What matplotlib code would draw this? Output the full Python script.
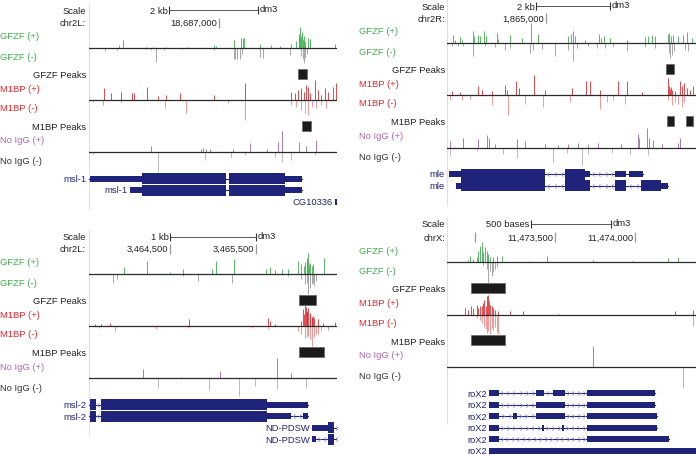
import numpy as np
import matplotlib.pyplot as plt
from matplotlib.path import Path
from matplotlib.transforms import blended_transform_factory

plt.rcParams['font.family'] = ['Liberation Sans', 'DejaVu Sans']

# ---- browser windows: start (bp) and width (kb) ----
chroms = ['chr2L', 'chr2R', 'chr2L', 'chrX']
win_start = [18684080, 1862324, 3463558, 11472825]
win_kb = [5.573, 6.730, 2.884, 1.556]
scale_text = ['2 kb', '2 kb', '1 kb', '500 bases']
scale_kb = [2.0, 2.0, 1.0, 0.5]
scale_from = [1.80, 2.405, 0.942, 0.525]
pos_ticks = [[18687000], [1865000], [3464500, 3465500], [11473000, 11473500, 11474000]]

# ---- signal tracks: (kb from window start, height) ----
gfzf_plus_1 = [(0.67, 2.7), (0.76, 7.3), (1.29, 1.0), (1.44, 1.0), (1.74, 1.0), (2.23, 1.0), (2.82, 2.7), (2.86, 1.3),
               (3.25, 7.3), (3.42, 9.3), (3.45, 10.0), (3.48, 9.3), (3.84, 3.3), (4.10, 2.7), (4.29, 2.0), (4.55, 3.3),
               (4.66, 6.7), (4.71, 10.0), (4.73, 14.0), (4.75, 21.0), (4.77, 11.7), (4.79, 16.0), (4.81, 8.3),
               (4.83, 12.0), (4.85, 6.7), (4.92, 9.3), (4.96, 8.3), (5.52, 4.0)]
gfzf_minus_1 = [(0.05, 1.3), (0.35, 3.3), (0.64, 2.0), (1.29, 1.3), (1.39, 2.0), (1.51, 14.0), (1.69, 2.0), (2.11, 1.3),
                (2.82, 2.0), (3.25, 11.0), (3.29, 11.0), (3.33, 11.0), (3.39, 11.0), (3.44, 6.0), (3.84, 9.0),
                (3.91, 10.0), (4.51, 7.0), (4.77, 8.0), (4.81, 11.0), (4.83, 15.0), (4.86, 10.0), (4.91, 6.0)]
m1bp_plus_1 = [(0.34, 12.3), (0.49, 6.7), (0.71, 8.3), (0.97, 6.7), (1.01, 7.3), (1.31, 13.3), (1.55, 4.0), (1.72, 5.0),
               (2.04, 6.7), (2.81, 5.0), (3.50, 16.7), (4.53, 8.3), (4.62, 6.7), (4.70, 10.0), (4.77, 11.7), (4.83, 8.3),
               (4.88, 15.0), (4.92, 13.3), (4.96, 6.7), (5.07, 20.0), (5.15, 10.0), (5.22, 5.0), (5.31, 11.7),
               (5.37, 8.3), (5.48, 13.3), (5.56, 16.7)]
m1bp_minus_1 = [(0.09, 2.3), (0.31, 5.0), (0.73, 1.7), (1.70, 8.3), (2.19, 13.3), (3.12, 3.3), (3.50, 20.0), (4.55, 5.0),
                (4.66, 6.7), (4.77, 10.0), (4.85, 13.0), (4.92, 15.0), (5.00, 6.7), (5.11, 7.7), (5.22, 5.0), (5.33, 8.3)]
igg_plus_1 = [(1.39, 6.0), (2.52, 3.3), (2.56, 4.3), (2.64, 2.7), (2.71, 3.3), (3.24, 3.3), (3.61, 9.0), (3.99, 2.7),
              (4.25, 10.0), (4.34, 21.0), (4.73, 10.0), (4.88, 6.0), (5.09, 12.0)]
igg_minus_1 = [(0.09, 2.0), (1.55, 20.0), (2.60, 8.0), (3.20, 5.0), (3.50, 3.0), (4.17, 5.0), (4.34, 10.0), (4.55, 8.0),
               (5.07, 3.0)]

gfzf_plus_2 = [(0.17, 8.3), (0.22, 3.3), (0.35, 6.0), (0.40, 2.7), (0.69, 11.7), (0.74, 6.7), (0.85, 8.3), (0.89, 6.7),
               (1.01, 11.7), (1.05, 6.7), (1.34, 10.0), (1.39, 4.0), (1.70, 8.3), (2.02, 5.0), (2.27, 20.0), (2.47, 9.3),
               (3.28, 6.7), (3.35, 9.3), (3.41, 11.7), (3.46, 6.7), (3.73, 3.3), (4.11, 9.3), (4.16, 5.0), (4.25, 7.3),
               (4.41, 5.0), (4.86, 2.7), (5.35, 6.0), (5.44, 6.7), (5.55, 8.3), (5.62, 7.3), (5.96, 9.3), (6.00, 10.0),
               (6.05, 7.3), (6.12, 8.3), (6.25, 6.7), (6.39, 8.3), (6.48, 10.7), (6.61, 5.0)]
gfzf_minus_2 = [(0.14, 2.7), (0.31, 3.3), (0.44, 3.3), (0.71, 13.3), (1.03, 3.3), (1.30, 4.0), (1.57, 6.7), (1.70, 5.0),
                (2.24, 10.0), (2.33, 7.3), (2.56, 6.0), (2.92, 13.3), (3.28, 6.7), (3.41, 18.0), (3.51, 5.0),
                (3.82, 3.3), (4.05, 5.0), (4.27, 5.0), (4.50, 3.3), (4.86, 8.3), (5.35, 4.0), (5.62, 5.0), (6.00, 10.0),
                (6.04, 14.7), (6.07, 11.7), (6.14, 8.3), (6.43, 6.7), (6.52, 8.3)]
m1bp_plus_2 = [(0.13, 4.0), (0.35, 3.3), (0.85, 9.0), (0.94, 5.7), (1.21, 4.0), (1.57, 10.7), (1.61, 5.7), (1.86, 14.0),
               (1.95, 7.3), (2.36, 20.0), (2.65, 5.7), (3.37, 7.3), (3.75, 14.7), (3.87, 14.0), (4.14, 5.7),
               (4.61, 14.0), (4.86, 14.7), (5.26, 3.3), (5.96, 17.3), (6.00, 9.0), (6.02, 6.0), (6.05, 8.0),
               (6.07, 5.7), (6.16, 4.0), (6.30, 14.7), (6.36, 9.0), (6.41, 12.3), (6.48, 7.3), (6.57, 5.7), (6.66, 9.0)]
m1bp_minus_2 = [(0.08, 5.0), (0.40, 5.0), (0.62, 3.3), (1.21, 10.0), (1.66, 20.0), (2.11, 8.3), (2.60, 11.7),
                (3.32, 6.7), (4.14, 14.0), (4.32, 6.7), (4.50, 5.0), (4.81, 8.3), (5.98, 5.0), (6.07, 10.0),
                (6.16, 6.7), (6.25, 8.3), (6.34, 11.7), (6.41, 6.7)]
igg_plus_2 = [(0.08, 6.7), (0.44, 10.0), (0.85, 8.3), (1.07, 12.7), (1.14, 10.0), (1.30, 3.3), (1.88, 8.3), (2.11, 6.7),
              (2.65, 3.3), (3.01, 2.7), (3.28, 3.3), (3.55, 5.0), (3.82, 3.3), (4.09, 5.0), (4.70, 4.0), (5.15, 14.0),
              (5.19, 9.3), (5.40, 20.0), (5.46, 10.0), (5.57, 8.0), (5.80, 4.0), (6.23, 5.0), (6.30, 10.0)]
igg_minus_2 = [(0.08, 7.0), (0.80, 3.3), (1.52, 6.7), (1.88, 10.0), (2.87, 14.0), (3.23, 5.0), (3.64, 17.0),
               (3.82, 6.7), (4.45, 5.0), (4.95, 6.7), (5.44, 7.0)]

gfzf_plus_3 = [(0.41, 6.7), (0.67, 12.7), (0.94, 2.0), (1.09, 4.3), (1.43, 4.3), (1.48, 12.7), (1.69, 14.3), (2.06, 4.3),
               (2.10, 6.7), (2.16, 3.3), (2.24, 4.3), (2.31, 4.3), (2.43, 12.7), (2.47, 9.3), (2.50, 7.7), (2.51, 12.0),
               (2.53, 16.0), (2.54, 14.0), (2.55, 21.0), (2.56, 10.0), (2.57, 11.0), (2.59, 7.7), (2.61, 9.3),
               (2.73, 16.0)]
gfzf_minus_3 = [(0.28, 9.0), (0.33, 5.7), (1.09, 2.3), (1.27, 7.3), (1.66, 9.0), (2.31, 2.3), (2.47, 5.7), (2.51, 10.7),
                (2.53, 9.0), (2.55, 20.0), (2.57, 14.0), (2.59, 10.7), (2.61, 9.0), (2.62, 12.3), (2.64, 7.3)]
m1bp_plus_3 = [(0.07, 1.7), (0.14, 2.3), (0.24, 3.3), (1.16, 6.7), (2.08, 8.3), (2.10, 5.0), (2.16, 2.3), (2.46, 5.0),
               (2.49, 16.7), (2.50, 12.0), (2.51, 21.7), (2.52, 19.0), (2.53, 15.0), (2.54, 14.0), (2.55, 18.3),
               (2.57, 13.3), (2.575, 11.0), (2.59, 8.3), (2.595, 9.0), (2.61, 10.0), (2.62, 8.3), (2.66, 6.7),
               (2.72, 3.3), (2.86, 4.3)]
m1bp_minus_3 = [(0.12, 2.0), (0.30, 5.0), (0.78, 3.0), (1.15, 2.0), (1.89, 2.0), (2.08, 2.5), (2.43, 5.0), (2.47, 7.5),
                (2.51, 11.7), (2.53, 11.0), (2.55, 10.0), (2.57, 13.3), (2.59, 20.0), (2.62, 11.0), (2.64, 8.0),
                (2.66, 7.7), (2.70, 5.0), (2.78, 4.3), (2.88, 2.3)]
igg_plus_3 = [(0.63, 9.3), (1.07, 1.0), (1.52, 7.3), (2.19, 20.0), (2.35, 5.0)]
igg_minus_3 = [(0.80, 10.0), (1.39, 12.0), (1.75, 18.0), (1.93, 8.0), (2.19, 11.0), (2.52, 10.0), (2.88, 5.0)]

gfzf_plus_4 = [(0.133, 2.7), (0.144, 6.7), (0.165, 3.3), (0.185, 5.0), (0.196, 11.7), (0.206, 16.7), (0.217, 20.0),
               (0.227, 10.0), (0.238, 15.0), (0.248, 11.7), (0.258, 8.3), (0.269, 5.0), (0.290, 5.0), (0.310, 6.7),
               (0.342, 6.7), (0.519, 1.7), (0.623, 6.7), (0.915, 2.7), (1.154, 1.7), (1.383, 4.0), (1.446, 5.0)]
gfzf_minus_4 = [(0.227, 2.7), (0.248, 6.7), (0.258, 21.0), (0.269, 8.3), (0.279, 13.3), (0.290, 10.0), (0.300, 6.7),
                (0.310, 5.0)]
m1bp_plus_4 = [(0.113, 6.7), (0.133, 5.0), (0.150, 8.3), (0.165, 6.7), (0.185, 10.0), (0.196, 6.7), (0.206, 8.3),
               (0.217, 9.0), (0.227, 11.7), (0.233, 15.0), (0.242, 8.3), (0.248, 18.3), (0.254, 20.0), (0.263, 13.3),
               (0.269, 10.0), (0.279, 8.3), (0.290, 6.7), (0.300, 5.0), (0.321, 3.3), (0.394, 3.3), (0.477, 3.3),
               (0.702, 1.0), (1.425, 3.3), (1.540, 5.0)]
m1bp_minus_4 = [(0.185, 3.3), (0.206, 5.0), (0.221, 8.0), (0.233, 12.0), (0.242, 14.0), (0.250, 18.0), (0.258, 16.0),
                (0.269, 19.0), (0.279, 13.0), (0.290, 15.0), (0.300, 12.0), (0.310, 17.0), (0.321, 19.0), (1.540, 11.7)]
igg_plus_4 = [(0.910, 20.7)]
igg_minus_4 = [(1.475, 21.0)]

# ---- called peaks (kb start, kb end) ----
gfzf_peaks = [[(4.70, 4.91)], [(5.92, 6.14)], [(2.44, 2.64)], [(0.15, 0.36)]]
m1bp_peaks = [[(4.79, 4.99)], [(5.94, 6.14), (6.46, 6.66)], [(2.44, 2.73)], [(0.15, 0.36)]]

# ---- gene models: exons (kb start, kb end, coding) ----
msl1_a = [(0.00, 1.19, 0), (1.19, 3.08, 1), (3.15, 4.40, 1), (4.40, 4.79, 0)]
msl1_b = [(0.92, 1.19, 0), (1.19, 3.08, 1), (3.15, 4.40, 1), (4.40, 4.79, 0)]
cg10336 = [(5.53, 5.65, 0)]
mle_a = [(0.05, 0.38, 0), (0.38, 2.65, 1), (3.19, 3.73, 1), (3.73, 3.86, 0), (4.54, 4.84, 0), (4.92, 5.30, 0)]
mle_b = [(0.24, 0.38, 0), (0.38, 2.65, 1), (3.19, 3.86, 1), (4.54, 4.84, 1), (5.24, 5.78, 1), (5.78, 5.97, 0)]
msl2_a = [(0.00, 0.08, 1), (0.14, 2.07, 1), (2.07, 2.55, 0)]
msl2_b = [(0.00, 0.08, 1), (0.14, 2.07, 1), (2.07, 2.35, 0), (2.49, 2.55, 0)]
ndpdsw_a = [(2.59, 2.78, 0), (2.78, 2.85, 1), (3.00, 3.10, 1)]
ndpdsw_b = [(2.59, 2.64, 0), (2.78, 2.85, 1), (3.00, 3.10, 1)]
rox2_a = [(0.2625, 0.325, 0), (0.556, 0.606, 0), (0.6625, 0.7375, 0), (0.875, 1.30, 0)]
rox2_b = [(0.2625, 0.325, 0), (0.556, 0.7375, 0), (0.875, 1.30, 0)]
rox2_c = [(0.2625, 0.325, 0), (0.4125, 0.4375, 0), (0.556, 0.7375, 0), (0.875, 1.3125, 0)]
rox2_d = [(0.2625, 0.325, 0), (0.594, 0.606, 0), (0.719, 0.731, 0), (0.875, 1.3125, 0)]
rox2_e = [(0.2625, 0.325, 0), (0.875, 1.3875, 0)]
rox2_f = [(0.2625, 1.70, 0)]

# (name, exons, strand, label anchor kb)
genes = [
    [('msl-1', msl1_a, '<', 0.0), ('msl-1', msl1_b, '<', 0.92), ('CG10336', cg10336, '<', 5.53)],
    [('mle', mle_a, '<', 0.0), ('mle', mle_b, '<', 0.0)],
    [('msl-2', msl2_a, '<', 0.0), ('msl-2', msl2_b, '<', 0.0),
     ('ND-PDSW', ndpdsw_a, '>', 2.59), ('ND-PDSW', ndpdsw_b, '>', 2.59)],
    [('roX2', rox2_a, '>', 0.2625), ('roX2', rox2_b, '>', 0.2625), ('roX2', rox2_c, '>', 0.2625),
     ('roX2', rox2_d, '>', 0.2625), ('roX2', rox2_e, '>', 0.2625), ('roX2', rox2_f, '>', 0.2625)],
]

gfzf_plus = [gfzf_plus_1, gfzf_plus_2, gfzf_plus_3, gfzf_plus_4]
gfzf_minus = [gfzf_minus_1, gfzf_minus_2, gfzf_minus_3, gfzf_minus_4]
m1bp_plus = [m1bp_plus_1, m1bp_plus_2, m1bp_plus_3, m1bp_plus_4]
m1bp_minus = [m1bp_minus_1, m1bp_minus_2, m1bp_minus_3, m1bp_minus_4]
igg_plus = [igg_plus_1, igg_plus_2, igg_plus_3, igg_plus_4]
igg_minus = [igg_minus_1, igg_minus_2, igg_minus_3, igg_minus_4]

# ---- layout (figure pixels) ----
W, H = 696.0, 456.0
panel_px = [(89, 337), (447, 696), (89, 337), (447, 696)]
base_y = [48.5, 44.0, 274.7, 263.3]
scale_dy = [-37.5, -37.0, -36.7, -38.8]
chr_dy = -25.0
lab_left = [0.5, 359.5, 0.5, 359.5]
lab_right = [86.0, 445.0, 86.0, 445.0]
fs = 6.75

green, red, purple, dark = '#3cb14a', '#e8242a', '#b565b6', '#333333'
navy = '#1f237a'
track_labels = [('GFZF (+)', -12.0, green, 'left'), ('GFZF (-)', 8.5, green, 'left'),
                ('GFZF Peaks', 26.5, '#222222', 'right'), ('M1BP (+)', 40.5, red, 'left'),
                ('M1BP (-)', 60.0, red, 'left'), ('M1BP Peaks', 79.0, '#222222', 'right'),
                ('No IgG (+)', 92.5, purple, 'left'), ('No IgG (-)', 113.5, dark, 'left')]
track_dy = [0.0, 52.3, 104.5]

chev_r = Path([(-0.45, 1.0), (0.45, 0.0), (-0.45, -1.0)], [Path.MOVETO, Path.LINETO, Path.LINETO])
chev_l = Path([(0.45, 1.0), (-0.45, 0.0), (0.45, -1.0)], [Path.MOVETO, Path.LINETO, Path.LINETO])

fig = plt.figure(figsize=(6.96, 4.56), dpi=100)

for p in range(4):
    x0, x1 = panel_px[p]
    ax = fig.add_axes([x0 / W, 0, (x1 - x0) / W, 1])
    ax.set_xlim(0, win_kb[p])
    ax.set_ylim(H, 0)
    ax.axis('off')
    ltr = blended_transform_factory(fig.transFigure, ax.transData)
    b = base_y[p]
    kb_px = win_kb[p] / (x1 - x0)   # kb per pixel

    # faint left guide line
    ax.vlines(0, b - 45, b + 162, color='#f3d6d6', lw=0.8, clip_on=False)

    # scale bar row
    ys = b + scale_dy[p]
    s0, s1 = scale_from[p], scale_from[p] + scale_kb[p]
    ax.plot([s0, s1], [ys, ys], color='#555555', lw=0.7)
    ax.vlines([s0, s1], ys - 4, ys + 4, color='#333333', lw=0.8)
    ax.text(s0 - 1.5 * kb_px, ys, scale_text[p], ha='right', va='center', fontsize=fs, color='#222222')
    ax.text(s1 + 2 * kb_px, ys - 1, 'dm3', ha='left', va='center', fontsize=fs, color='#222222')
    ax.text(lab_right[p] / W, ys, 'Scale', transform=ltr, ha='right', va='center', fontsize=fs, color='#222222')

    # chromosome position row
    yc = b + chr_dy
    ax.text(lab_right[p] / W, yc, chroms[p] + ':', transform=ltr, ha='right', va='center', fontsize=fs,
            color='#222222')
    for t in pos_ticks[p]:
        k = (t - win_start[p]) / 1000.0
        ax.vlines(k, yc - 5, yc + 5, color='#999999', lw=0.9)
        if k / kb_px > 60:
            ax.text(k - 2 * kb_px, yc, f'{t:,}', ha='right', va='center', fontsize=fs, color='#222222')

    # track labels
    for txt, dy, col, al in track_labels:
        xl = lab_left[p] if al == 'left' else lab_right[p]
        ax.text(xl / W, b + dy, txt, transform=ltr, ha=al, va='center', fontsize=fs, color=col)

    # signal tracks
    sets = [(gfzf_plus[p], gfzf_minus[p], '#3cae4a', '#9a9a9a'),
            (m1bp_plus[p], m1bp_minus[p], '#e02a2e', '#f28686'),
            (igg_plus[p], igg_minus[p], '#a064a0', '#b0b0b0')]
    for (plus, minus, cp, cm), dy in zip(sets, track_dy):
        yb = b + dy
        xs, hs = np.array(plus).T
        ax.vlines(xs, yb, yb - hs, color=cp, lw=0.6)
        xs, hs = np.array(minus).T
        ax.vlines(xs, yb, yb + hs, color=cm, lw=0.6)
        ax.axhline(yb, color='#2a2a2a', lw=0.9)

    # peak calls
    for peaks, dy in [(gfzf_peaks[p], 26.0), (m1bp_peaks[p], 78.0)]:
        ax.broken_barh([(s, e - s) for s, e in peaks], (b + dy - 5, 10), facecolor='#1b1b1b',
                       edgecolor='#666666', lw=0.5)

    # gene models
    for i, (name, exons, strand, lab_kb) in enumerate(genes[p]):
        yg = b + 131 + 11.5 * i
        st = min(e[0] for e in exons)
        en = max(e[1] for e in exons)
        ax.plot([st, en], [yg, yg], color=navy, lw=0.8)
        for s, e, cds in exons:
            h = 11.0 if cds else 6.0
            ax.broken_barh([(s, e - s)], (yg - h / 2, h), facecolor=navy, edgecolor='none')
        srt = sorted(exons)
        for (s_a, e_a, _), (s_b, e_b, _) in zip(srt[:-1], srt[1:]):
            gap = (s_b - e_a) / kb_px
            n = int(gap // 5.5)
            if n == 0 and gap >= 4:
                n = 1
            if n > 0:
                cx = e_a + (np.arange(n) + 0.5) * (s_b - e_a) / n
                ax.plot(cx, np.full(n, yg), ls='none', marker=chev_r if strand == '>' else chev_l,
                        markersize=3.2, mfc='none', mec='#8c8cd0', mew=0.55)
        ax.text(lab_kb - 2 * kb_px, yg, name, ha='right', va='center', fontsize=fs, color=navy)

fig.savefig('out.png', dpi=100)
